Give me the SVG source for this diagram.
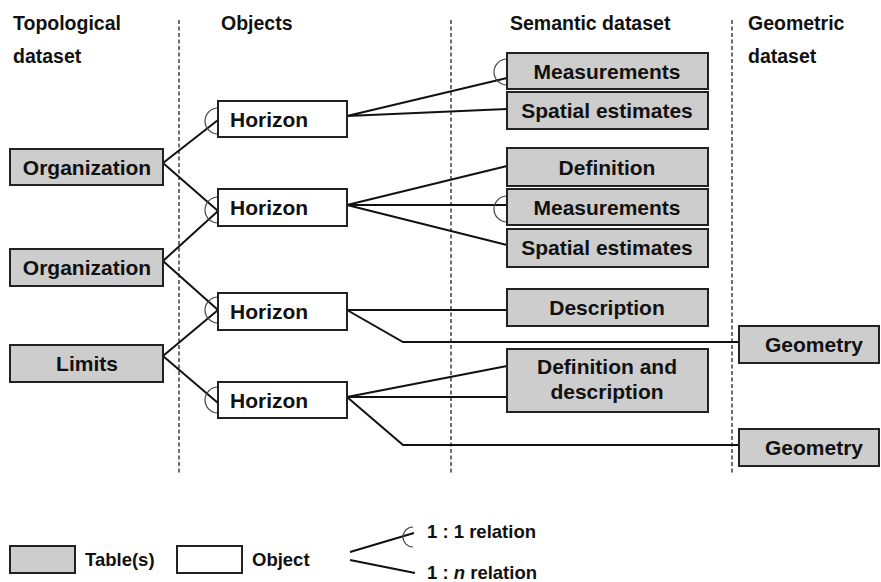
<svg xmlns="http://www.w3.org/2000/svg" width="881" height="582" viewBox="0 0 881 582">
<style>
text{font-family:"Liberation Sans",Arial,sans-serif;font-weight:bold;fill:#111}
.hd{font-size:19.5px}
.lb{font-size:21px}
.lg{font-size:18.5px}
.mid{text-anchor:middle}
.tbl{fill:#cdcdcd;stroke:#222;stroke-width:2}
.obj{fill:#fff;stroke:#222;stroke-width:2}
.con{fill:none;stroke:#111;stroke-width:2}
.one{fill:none;stroke:#444;stroke-width:1.2}
.dash{stroke:#222;stroke-width:1.3;stroke-dasharray:4 2.5}
</style>
<g id="headers">
<text class="hd" x="13" y="30">Topological</text>
<text class="hd" x="13" y="63">dataset</text>
<text class="hd" x="221" y="30">Objects</text>
<text class="hd" x="510" y="30">Semantic dataset</text>
<text class="hd" x="748" y="30">Geometric</text>
<text class="hd" x="748" y="63">dataset</text>
</g>
<g id="dividers">
<line class="dash" x1="179" y1="20" x2="179" y2="473"/>
<line class="dash" x1="451" y1="20" x2="451" y2="473"/>
<line class="dash" x1="732" y1="20" x2="732" y2="473"/>
</g>
<g id="connectors">
<path class="con" d="M163,163 L218,120 M163,163 L218,211"/>
<path class="con" d="M163,261 L218,211 M163,261 L218,310"/>
<path class="con" d="M163,356 L218,310 M163,356 L218,403"/>
<path class="con" d="M347,116 L507,78 M347,116 L507,109"/>
<path class="con" d="M347,205 L507,166 M347,205 L507,205 M347,205 L507,245"/>
<path class="con" d="M347,310 L507,310 M347,310 L403,342 L739,342"/>
<path class="con" d="M347,397 L507,366 M347,397 L507,397 M347,397 L403,445 L739,445"/>
<path class="one" d="M218,108 A13,13 0 0 0 218,134"/>
<path class="one" d="M218,197 A13,13 0 0 0 218,223"/>
<path class="one" d="M218,297 A13,13 0 0 0 218,323"/>
<path class="one" d="M218,387 A13,13 0 0 0 218,413"/>
<path class="one" d="M507,59 A13,13 0 0 0 507,85"/>
<path class="one" d="M507,196 A13,13 0 0 0 507,222"/>
</g>
<g id="org1"><rect class="tbl" x="10" y="149" width="153" height="36"/><text class="lb mid" x="87" y="175">Organization</text></g>
<g id="org2"><rect class="tbl" x="10" y="249" width="153" height="37"/><text class="lb mid" x="87" y="275">Organization</text></g>
<g id="limits"><rect class="tbl" x="10" y="345" width="153" height="37"/><text class="lb mid" x="87" y="371">Limits</text></g>
<g id="horizon1"><rect class="obj" x="218" y="101" width="129" height="36"/><text class="lb" x="230" y="127">Horizon</text></g>
<g id="horizon2"><rect class="obj" x="218" y="189" width="129" height="37"/><text class="lb" x="230" y="215">Horizon</text></g>
<g id="horizon3"><rect class="obj" x="218" y="293" width="129" height="37"/><text class="lb" x="230" y="319">Horizon</text></g>
<g id="horizon4"><rect class="obj" x="218" y="382" width="129" height="36"/><text class="lb" x="230" y="408">Horizon</text></g>
<g id="measurements1"><rect class="tbl" x="507" y="53" width="201" height="36"/><text class="lb mid" x="607" y="79">Measurements</text></g>
<g id="spatial1"><rect class="tbl" x="507" y="92" width="201" height="37"/><text class="lb mid" x="607" y="118">Spatial estimates</text></g>
<g id="definition"><rect class="tbl" x="507" y="148" width="201" height="38"/><text class="lb mid" x="607" y="175">Definition</text></g>
<g id="measurements2"><rect class="tbl" x="507" y="189" width="201" height="36"/><text class="lb mid" x="607" y="215">Measurements</text></g>
<g id="spatial2"><rect class="tbl" x="507" y="229" width="201" height="38"/><text class="lb mid" x="607" y="255">Spatial estimates</text></g>
<g id="description"><rect class="tbl" x="507" y="289" width="201" height="37"/><text class="lb mid" x="607" y="315">Description</text></g>
<g id="defdesc"><rect class="tbl" x="507" y="349" width="201" height="63"/><text class="lb mid" x="607" y="374">Definition and</text><text class="lb mid" x="607" y="399">description</text></g>
<g id="geometry1"><rect class="tbl" x="739" y="326" width="140" height="37"/><text class="lb mid" x="814" y="352">Geometry</text></g>
<g id="geometry2"><rect class="tbl" x="739" y="429" width="140" height="37"/><text class="lb mid" x="814" y="455">Geometry</text></g>
<g id="legend">
<rect class="tbl" x="10" y="546" width="65" height="27"/>
<text class="lg" x="85" y="566">Table(s)</text>
<rect class="obj" x="177" y="546" width="65" height="27"/>
<text class="lg" x="252" y="566">Object</text>
<path class="con" d="M350,552 L414,533 M350,560 L415,573"/>
<path class="one" d="M413,527 A10,10 0 0 0 413,547"/>
<text class="lg" x="427" y="538">1 : 1 relation</text>
<text class="lg" x="427" y="579">1 : <tspan font-style="italic">n</tspan> relation</text>
</g>
</svg>
